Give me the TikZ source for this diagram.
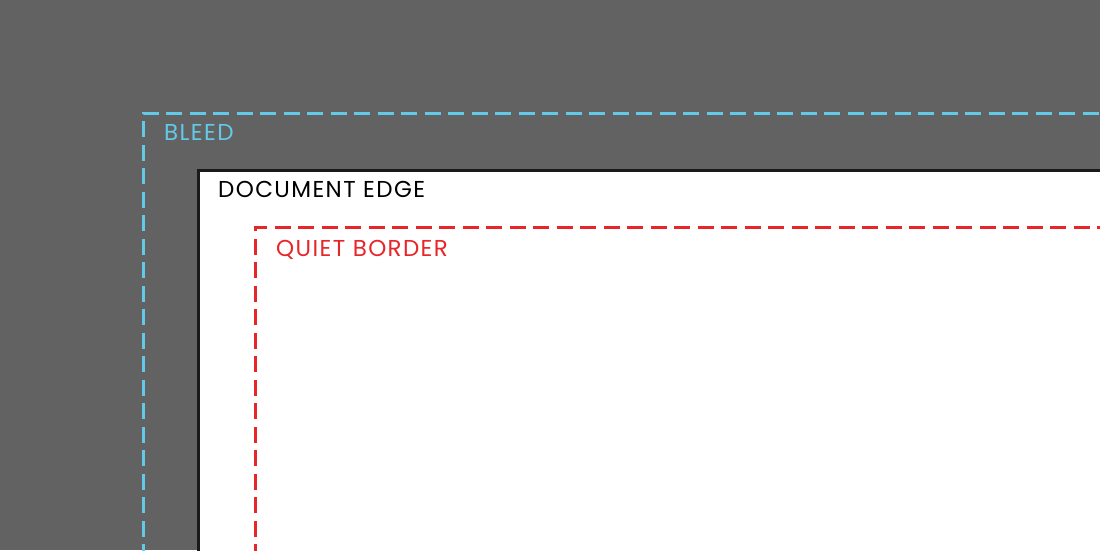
\documentclass[tikz,border=0pt]{standalone}
\usepackage{fontspec}
\setmainfont{Poppins}[LetterSpace=6]
\definecolor{sheetgray}{HTML}{626262}
\definecolor{bleedblue}{HTML}{62CAE8}
\definecolor{quietred}{HTML}{E8262A}
\definecolor{edgeblack}{HTML}{1A1A1A}
\tikzset{
  guide/.style={line width=3pt,dash pattern=on 16pt off 7.5pt},
  label/.style={anchor=base west,inner sep=0pt,font=\fontsize{23}{25}\selectfont}
}
\begin{document}
\begin{tikzpicture}[x=1pt,y=-1pt]
\useasboundingbox (0,0) rectangle (1100,550);
\fill[sheetgray] (0,0) rectangle (1100,550);
% bleed line
\draw[guide,bleedblue] (143,560) -- (143,113) -- (1110,113);
\node[label,text=bleedblue] (bleed) at (164,140.5) {BLEED};
% document edge
\draw[fill=white,draw=edgeblack,line width=3pt] (198,570) -- (198,170) -- (1120,170) -- (1120,570) -- cycle;
\node[label,text=black] (docedge) at (218,197) {DOCUMENT EDGE};
% quiet border
\draw[guide,quietred] (255,560) -- (255,227) -- (1110,227);
\node[label,text=quietred] (quiet) at (276,256) {QUIET BORDER};
\end{tikzpicture}
\end{document}
